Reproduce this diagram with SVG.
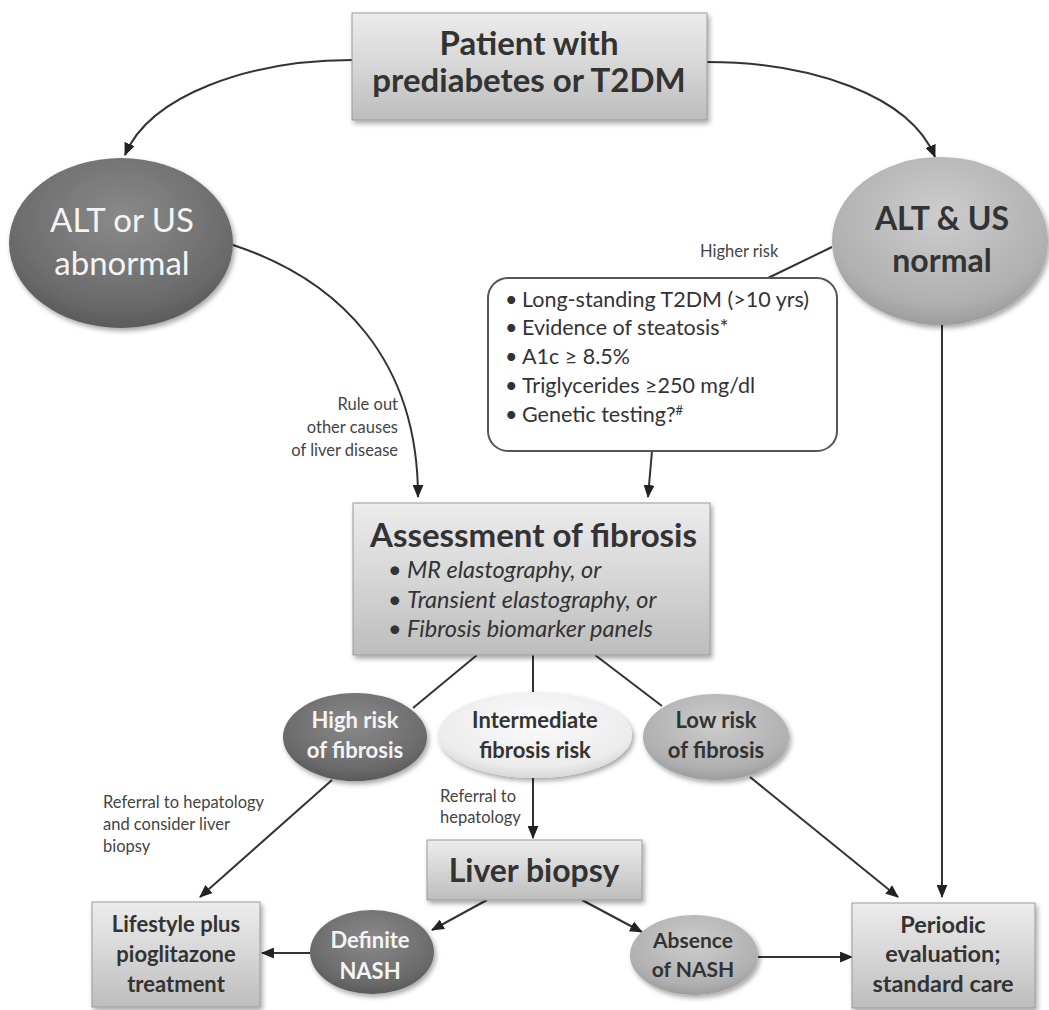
<svg xmlns="http://www.w3.org/2000/svg" width="1049" height="1010" viewBox="0 0 1049 1010">
<defs>
<style>
.t{font-family:Lato,"Open Sans","Liberation Sans",sans-serif;}
.b{font-weight:bold;}
.dk{fill:#333333;}
.wt{fill:#f4f4f4;}
.lbl{font-family:Lato,"Open Sans","Liberation Sans",sans-serif;font-size:16.5px;fill:#444444;}
.box{fill:url(#gBox);stroke:#9a9a9a;stroke-width:1;filter:url(#sh);}
.edge{fill:none;stroke:#333333;stroke-width:2;}
.arr{marker-end:url(#ah);}
</style>
<linearGradient id="gBox" x1="0" y1="0" x2="0" y2="1">
<stop offset="0" stop-color="#ececec"/>
<stop offset="0.5" stop-color="#d6d6d6"/>
<stop offset="1" stop-color="#bdbdbd"/>
</linearGradient>
<radialGradient id="gDark" cx="0.5" cy="0.35" r="0.65">
<stop offset="0" stop-color="#8a8a8a"/>
<stop offset="0.8" stop-color="#6a6a6a"/>
<stop offset="1" stop-color="#5a5a5a"/>
</radialGradient>
<radialGradient id="gMid" cx="0.5" cy="0.35" r="0.65">
<stop offset="0" stop-color="#cdcdcd"/>
<stop offset="0.8" stop-color="#b0b0b0"/>
<stop offset="1" stop-color="#9d9d9d"/>
</radialGradient>
<radialGradient id="gLight" cx="0.5" cy="0.35" r="0.65">
<stop offset="0" stop-color="#fbfbfb"/>
<stop offset="0.8" stop-color="#ececec"/>
<stop offset="1" stop-color="#d8d8d8"/>
</radialGradient>
<filter id="sh" x="-10%" y="-10%" width="125%" height="130%">
<feDropShadow dx="2" dy="3" stdDeviation="2.5" flood-color="#000000" flood-opacity="0.35"/>
</filter>
<marker id="ah" viewBox="0 0 12 10" refX="11" refY="5" markerWidth="13" markerHeight="11" markerUnits="userSpaceOnUse" orient="auto">
<path d="M0,0 L12,5 L0,10 z" fill="#222222"/>
</marker>
</defs>
<rect width="1049" height="1010" fill="#ffffff"/>

<g id="connectors">
<path class="edge arr" d="M352,60 C250,60 150,95 125,155"/>
<path class="edge arr" d="M707,62 C810,62 910,95 935,157"/>
<path class="edge arr" d="M233,245 C340,280 418,360 418,497"/>
<path class="edge" d="M832,247 L768,278"/>
<path class="edge arr" d="M652,451 L648,497"/>
<path class="edge" d="M477,655 L413,708"/>
<path class="edge" d="M533,655 L533,692"/>
<path class="edge" d="M595,655 L662,706"/>
<path class="edge arr" d="M332,780 L200,897"/>
<path class="edge arr" d="M533,778 L533,838"/>
<path class="edge arr" d="M750,777 L898,897"/>
<path class="edge arr" d="M942,325 L942,897"/>
<path class="edge arr" d="M487,900 L432,930"/>
<path class="edge arr" d="M582,900 L642,932"/>
<path class="edge arr" d="M310,953 L262,953"/>
<path class="edge arr" d="M758,957 L852,957"/>
</g>

<g id="labels">
<text class="lbl" text-anchor="end" x="398" y="410">Rule out</text>
<text class="lbl" text-anchor="end" x="398" y="433">other causes</text>
<text class="lbl" text-anchor="end" x="398" y="456">of liver disease</text>
<text class="lbl" x="700" y="257">Higher risk</text>
<text class="lbl" x="440" y="802">Referral to</text>
<text class="lbl" x="440" y="823">hepatology</text>
<text class="lbl" x="103" y="808">Referral to hepatology</text>
<text class="lbl" x="103" y="830">and consider liver</text>
<text class="lbl" x="103" y="852">biopsy</text>
</g>

<g id="patient">
<rect class="box" x="352" y="13" width="355" height="107"/>
<text class="t b dk" text-anchor="middle" font-size="33" x="529" y="55">Patient with</text>
<text class="t b dk" text-anchor="middle" font-size="33" x="529" y="92">prediabetes or T2DM</text>
</g>

<g id="alt-abnormal">
<ellipse cx="121" cy="243" rx="112" ry="85" fill="url(#gDark)" filter="url(#sh)"/>
<text class="t wt" text-anchor="middle" font-size="33" x="122" y="232">ALT or US</text>
<text class="t wt" text-anchor="middle" font-size="33" x="122" y="275">abnormal</text>
</g>

<g id="alt-normal">
<ellipse cx="940" cy="241" rx="108" ry="84" fill="url(#gMid)" filter="url(#sh)"/>
<text class="t b dk" text-anchor="middle" font-size="32" x="942" y="230">ALT &amp; US</text>
<text class="t b dk" text-anchor="middle" font-size="32" x="942" y="272">normal</text>
</g>

<g id="risk-factors">
<rect x="488" y="278" width="349" height="173" rx="20" fill="#ffffff" stroke="#555555" stroke-width="2"/>
<g class="t dk" font-size="21.5">
<text x="505" y="307">•</text><text x="522" y="307">Long-standing T2DM (&gt;10 yrs)</text>
<text x="505" y="335">•</text><text x="522" y="335">Evidence of steatosis*</text>
<text x="505" y="364">•</text><text x="522" y="364">A1c ≥ 8.5%</text>
<text x="505" y="393">•</text><text x="522" y="393">Triglycerides ≥250 mg/dl</text>
<text x="505" y="422">•</text><text x="522" y="422">Genetic testing?<tspan font-size="13" dy="-7">#</tspan></text>
</g>
</g>

<g id="assessment">
<rect class="box" x="353" y="503" width="357" height="152"/>
<text class="t b dk" font-size="33" x="370" y="547">Assessment of fibrosis</text>
<g class="t dk" font-size="23.5" font-style="italic">
<text x="388" y="578">•</text><text x="407" y="578">MR elastography, or</text>
<text x="388" y="608">•</text><text x="407" y="608">Transient elastography, or</text>
<text x="388" y="637">•</text><text x="407" y="637">Fibrosis biomarker panels</text>
</g>
</g>

<g id="high-risk">
<ellipse cx="355" cy="737" rx="72" ry="44" fill="url(#gDark)" filter="url(#sh)"/>
<text class="t b wt" text-anchor="middle" font-size="22" x="355" y="728">High risk</text>
<text class="t b wt" text-anchor="middle" font-size="22" x="355" y="758">of fibrosis</text>
</g>

<g id="intermediate-risk">
<ellipse cx="535" cy="735" rx="97" ry="43" fill="url(#gLight)" filter="url(#sh)"/>
<text class="t b dk" text-anchor="middle" font-size="22" x="535" y="728">Intermediate</text>
<text class="t b dk" text-anchor="middle" font-size="22" x="535" y="758">fibrosis risk</text>
</g>

<g id="low-risk">
<ellipse cx="716" cy="737" rx="73" ry="43" fill="url(#gMid)" filter="url(#sh)"/>
<text class="t b dk" text-anchor="middle" font-size="22" x="716" y="728">Low risk</text>
<text class="t b dk" text-anchor="middle" font-size="22" x="716" y="758">of fibrosis</text>
</g>

<g id="liver-biopsy">
<rect class="box" x="427" y="840" width="215" height="60"/>
<text class="t b dk" text-anchor="middle" font-size="32" x="534" y="882">Liver biopsy</text>
</g>

<g id="lifestyle">
<rect class="box" x="92" y="902" width="168" height="105"/>
<text class="t b dk" text-anchor="middle" font-size="22" x="176" y="932">Lifestyle plus</text>
<text class="t b dk" text-anchor="middle" font-size="22" x="176" y="962">pioglitazone</text>
<text class="t b dk" text-anchor="middle" font-size="22" x="176" y="992">treatment</text>
</g>

<g id="definite-nash">
<ellipse cx="372" cy="952" rx="62" ry="42" fill="url(#gDark)" filter="url(#sh)"/>
<text class="t b wt" text-anchor="middle" font-size="22" x="370" y="948">Definite</text>
<text class="t b wt" text-anchor="middle" font-size="22" x="370" y="979">NASH</text>
</g>

<g id="absence-nash">
<ellipse cx="694" cy="955" rx="64" ry="40" fill="url(#gMid)" filter="url(#sh)"/>
<text class="t b dk" text-anchor="middle" font-size="21" x="693" y="948">Absence</text>
<text class="t b dk" text-anchor="middle" font-size="21" x="693" y="977">of NASH</text>
</g>

<g id="periodic">
<rect class="box" x="852" y="903" width="183" height="105"/>
<text class="t b dk" text-anchor="middle" font-size="23.5" x="943" y="933">Periodic</text>
<text class="t b dk" text-anchor="middle" font-size="23.5" x="943" y="962">evaluation;</text>
<text class="t b dk" text-anchor="middle" font-size="23.5" x="943" y="992">standard care</text>
</g>
</svg>
